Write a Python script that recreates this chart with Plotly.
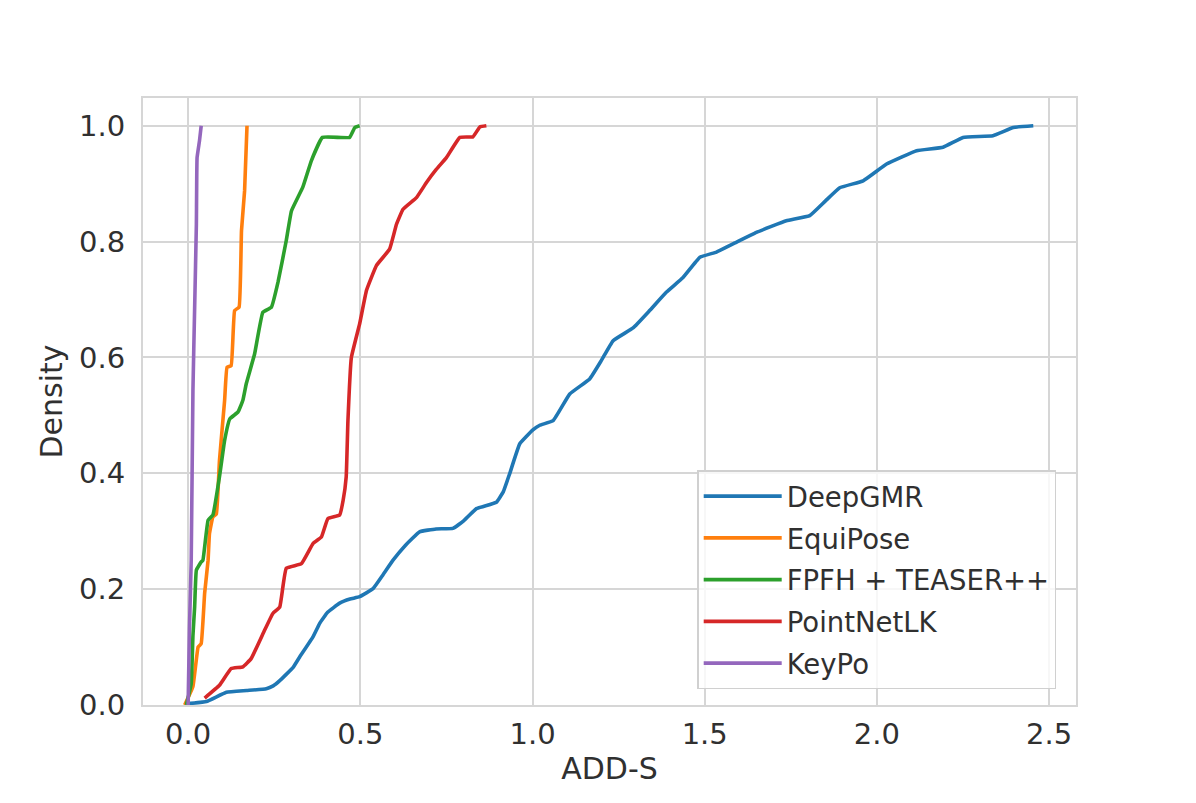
import plotly.graph_objects as go

# ---- data ----
deepgmr_x = [-0.005, 0.053, 0.111, 0.17, 0.227, 0.247, 0.266, 0.305, 0.324, 0.363, 0.382, 0.405,
             0.44, 0.47, 0.498, 0.537, 0.566, 0.595, 0.63, 0.672, 0.72, 0.769, 0.80, 0.837,
             0.895, 0.915, 0.934, 0.963, 1.001, 1.021, 1.06, 1.108, 1.166, 1.2, 1.234, 1.292,
             1.34, 1.389, 1.437, 1.486, 1.534, 1.582, 1.65, 1.737, 1.805, 1.85, 1.892, 1.96,
             2.028, 2.115, 2.192, 2.25, 2.337, 2.396, 2.454]
deepgmr_y = [0.002, 0.006, 0.022, 0.025, 0.028, 0.033, 0.042, 0.065, 0.083, 0.118, 0.141, 0.160,
             0.176, 0.183, 0.187, 0.201, 0.225, 0.25, 0.275, 0.299, 0.304, 0.305, 0.318, 0.339,
             0.35, 0.368, 0.4, 0.451, 0.475, 0.483, 0.491, 0.537, 0.563, 0.595, 0.629, 0.651,
             0.681, 0.713, 0.738, 0.773, 0.782, 0.796, 0.816, 0.836, 0.845, 0.87, 0.893, 0.905,
             0.934, 0.957, 0.963, 0.98, 0.983, 0.997, 1.0]

equipose_x = [-0.01, 0.014, 0.029, 0.038, 0.048, 0.058, 0.062, 0.072, 0.082, 0.091, 0.106,
              0.113, 0.125, 0.135, 0.148, 0.155, 0.164, 0.171]
equipose_y = [0.0, 0.032, 0.10, 0.106, 0.193, 0.25, 0.296, 0.325, 0.33, 0.422, 0.526,
              0.583, 0.586, 0.681, 0.687, 0.819, 0.888, 1.0]

fpfh_x = [-0.005, 0.009, 0.014, 0.019, 0.024, 0.038, 0.043, 0.058, 0.072, 0.091, 0.106, 0.121,
          0.145, 0.159, 0.169, 0.193, 0.217, 0.242, 0.261, 0.285, 0.3, 0.333, 0.358, 0.39,
          0.469, 0.484, 0.498]
fpfh_y = [0.0, 0.037, 0.12, 0.17, 0.233, 0.247, 0.25, 0.319, 0.328, 0.394, 0.457, 0.494,
          0.506, 0.526, 0.555, 0.606, 0.678, 0.687, 0.73, 0.802, 0.853, 0.894, 0.94, 0.98,
          0.98, 0.997, 1.0]

pointnetlk_x = [0.048, 0.091, 0.125, 0.159, 0.183, 0.222, 0.246, 0.266, 0.285, 0.329, 0.363,
                0.387, 0.406, 0.44, 0.45, 0.459, 0.464, 0.474, 0.498, 0.518, 0.547, 0.585,
                0.605, 0.624, 0.663, 0.692, 0.721, 0.75, 0.789, 0.827, 0.847, 0.866]
pointnetlk_y = [0.012, 0.034, 0.063, 0.066, 0.08, 0.129, 0.158, 0.169, 0.236, 0.244, 0.279,
                0.29, 0.322, 0.328, 0.353, 0.394, 0.49, 0.60, 0.658, 0.716, 0.759, 0.787,
                0.83, 0.856, 0.876, 0.902, 0.925, 0.945, 0.98, 0.981, 0.998, 1.0]

keypo_x = [0.0, 0.004, 0.009, 0.014, 0.019, 0.024, 0.026, 0.033, 0.038]
keypo_y = [0.0, 0.135, 0.25, 0.543, 0.687, 0.83, 0.945, 0.974, 1.0]

series_names = ["DeepGMR", "EquiPose", "FPFH + TEASER++", "PointNetLK", "KeyPo"]
series_colors = ["#1f77b4", "#ff7f0e", "#2ca02c", "#d62728", "#9467bd"]

x_ticks = [0.0, 0.5, 1.0, 1.5, 2.0, 2.5]
x_tick_labels = ["0.0", "0.5", "1.0", "1.5", "2.0", "2.5"]
y_ticks = [0.0, 0.2, 0.4, 0.6, 0.8, 1.0]
y_tick_labels = ["0.0", "0.2", "0.4", "0.6", "0.8", "1.0"]

series = [(deepgmr_x, deepgmr_y), (equipose_x, equipose_y), (fpfh_x, fpfh_y),
          (pointnetlk_x, pointnetlk_y), (keypo_x, keypo_y)]

FONT = "DejaVu Sans"
TXT = "#303030"
GRID = "#d6d6d6"

fig = go.Figure()
for (xs, ys), name, color in zip(series, series_names, series_colors):
    fig.add_trace(go.Scatter(
        x=xs, y=ys, mode="lines", name=name,
        line=dict(color=color, width=3.6, shape="spline", smoothing=0.3),
        legendgroup=name,
    ))

fig.update_layout(
    width=1196, height=803,
    margin=dict(l=135, r=128, t=90, b=106, autoexpand=False),
    paper_bgcolor="white", plot_bgcolor="white",
    font=dict(family=FONT, size=29, color=TXT),
    showlegend=True,
    legend=dict(
        x=0.594, y=0.026, xanchor="left", yanchor="bottom",
        bgcolor="rgba(255,255,255,0.8)", bordercolor="#d0d0d0", borderwidth=1.5,
        font=dict(family=FONT, size=27.5, color=TXT),
        tracegroupgap=3, itemwidth=78,
    ),
)
fig.update_xaxes(
    range=[-0.131, 2.578], tickvals=x_ticks, ticktext=x_tick_labels,
    showgrid=True, gridcolor=GRID, gridwidth=2, zeroline=False,
    showline=True, linecolor=GRID, linewidth=2, mirror=True,
    ticks="", ticklabelstandoff=2, automargin=False,
    tickfont=dict(family=FONT, size=29, color=TXT),
    title=dict(text="ADD-S", font=dict(family=FONT, size=30, color=TXT), standoff=8),
)
fig.update_yaxes(
    range=[0.0, 1.048], tickvals=y_ticks, ticktext=y_tick_labels,
    showgrid=True, gridcolor=GRID, gridwidth=2, zeroline=False,
    showline=True, linecolor=GRID, linewidth=2, mirror=True,
    ticks="", ticklabelstandoff=10, automargin=False,
    tickfont=dict(family=FONT, size=29, color=TXT),
    title=dict(text="Density", font=dict(family=FONT, size=30, color=TXT), standoff=8),
)

fig.write_html("out.html")
